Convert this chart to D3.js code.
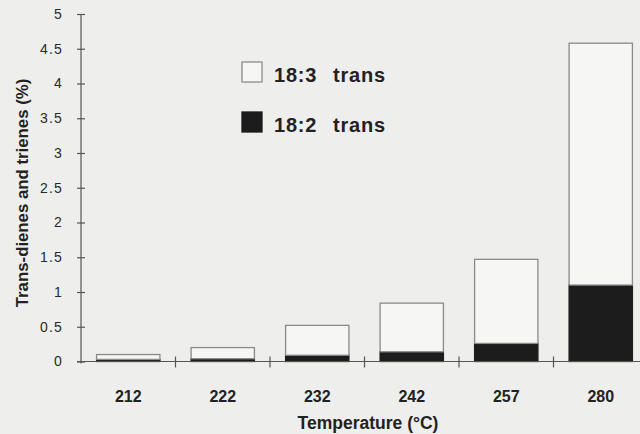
<!DOCTYPE html>
<html>
<head>
<meta charset="utf-8">
<script src="https://cdn.jsdelivr.net/npm/d3@7"></script>
<style>
  html, body { margin: 0; padding: 0; background: #eeeeec; }
  svg { display: block; font-family: "Liberation Sans", Arial, Helvetica, sans-serif; }
</style>
</head>
<body>
<svg id="chart" width="640" height="434"></svg>
<script>
// ---- data ----
const temperatures = ["212", "222", "232", "242", "257", "280"];
const trans182 = [0.03, 0.04, 0.09, 0.14, 0.26, 1.10];   // 18:2 trans (dark, bottom)
const totals   = [0.10, 0.20, 0.52, 0.84, 1.47, 4.58];   // 18:2 + 18:3 total
const trans183 = totals.map((t, i) => +(t - trans182[i]).toFixed(2)); // 18:3 trans (white, top)
const yTicks = [0, 0.5, 1, 1.5, 2, 2.5, 3, 3.5, 4, 4.5, 5];
const seriesKeys = ["18:2 trans", "18:3 trans"];
const legendLabels = [["18:3", "trans"], ["18:2", "trans"]];

// ---- layout ----
const svg = d3.select("#chart");
const x0 = 81, x1 = 648, yBottom = 361.5, yTop = 14;
const textCol = "#222";

const x = d3.scaleBand().domain(temperatures).range([x0, x1])
  .paddingInner(0.33).paddingOuter(0.165);
const y = d3.scaleLinear().domain([0, 5]).range([yBottom, yTop]);

const rows = temperatures.map((t, i) => ({ temp: t, "18:2 trans": trans182[i], "18:3 trans": trans183[i] }));
const stacked = d3.stack().keys(seriesKeys)(rows);
const fills = { "18:2 trans": "#1c1c1c", "18:3 trans": "#f6f6f4" };
const strokes = { "18:2 trans": "#1c1c1c", "18:3 trans": "#8a8a8a" };

// bars
svg.append("g").selectAll("g").data(stacked).join("g")
  .attr("fill", d => fills[d.key]).attr("stroke", d => strokes[d.key]).attr("stroke-width", 1.3)
  .selectAll("rect").data(d => d).join("rect")
  .attr("x", d => x(d.data.temp))
  .attr("width", x.bandwidth())
  .attr("y", d => y(d[1]))
  .attr("height", d => y(d[0]) - y(d[1]));

// y axis
const yAxis = svg.append("g").attr("transform", `translate(${x0},0)`)
  .call(d3.axisLeft(y).tickValues(yTicks).tickSize(4).tickSizeOuter(0).tickPadding(14)
        .tickFormat(d3.format("")));
yAxis.select(".domain").attr("stroke", "#555").attr("stroke-width", 1.2)
  .attr("d", `M0,${yTop}V${yBottom + 2}`);
yAxis.selectAll(".tick line").attr("stroke", "#555").attr("stroke-width", 1.2).attr("x2", -4)
  .clone().attr("x2", 4);
yAxis.selectAll(".tick text").attr("fill", "#2a2a2a").attr("font-size", 14)
  .attr("letter-spacing", 1.2).style("font-family", "Liberation Sans, Arial, sans-serif");

// x axis
const xAxis = svg.append("g").attr("transform", `translate(0,${yBottom})`)
  .call(d3.axisBottom(x).tickSize(0).tickPadding(29));
xAxis.select(".domain").attr("stroke", "#555").attr("stroke-width", 1.2)
  .attr("d", `M${x0 - 4},0H640`);
xAxis.selectAll(".tick text").attr("fill", textCol).attr("font-size", 16).attr("font-weight", "bold")
  .style("font-family", "Liberation Sans, Arial, sans-serif");
// separators between categories
const step = x.step();
svg.append("g").selectAll("line").data(temperatures.slice(1)).join("line")
  .attr("x1", d => x(d) - (step - x.bandwidth()) / 2)
  .attr("x2", d => x(d) - (step - x.bandwidth()) / 2)
  .attr("y1", yBottom - 5).attr("y2", yBottom + 6)
  .attr("stroke", "#555").attr("stroke-width", 1.2);

// axis titles
svg.append("text").attr("x", 368).attr("y", 429).attr("text-anchor", "middle")
  .attr("font-size", 17.5).attr("font-weight", "bold").attr("fill", textCol)
  .text("Temperature (°C)");
svg.append("text").attr("transform", "translate(28,193) rotate(-90)").attr("text-anchor", "middle")
  .attr("font-size", 16.8).attr("font-weight", "bold").attr("fill", textCol)
  .text("Trans-dienes and trienes (%)");

// legend
const legend = svg.append("g");
const legendItems = [
  { key: "18:3 trans", label: legendLabels[0], yb: 82 },
  { key: "18:2 trans", label: legendLabels[1], yb: 132 }
];
legendItems.forEach(it => {
  legend.append("rect").attr("x", 242).attr("y", it.yb - 20).attr("width", 20).attr("height", 20)
    .attr("fill", fills[it.key]).attr("stroke", strokes[it.key]).attr("stroke-width", 1.3);
  legend.append("text").attr("x", 274).attr("y", it.yb).attr("font-size", 20).attr("font-weight", "bold")
    .attr("fill", textCol).attr("letter-spacing", 0.8).text(it.label[0]);
  legend.append("text").attr("x", 333).attr("y", it.yb).attr("font-size", 20).attr("font-weight", "bold")
    .attr("fill", textCol).attr("letter-spacing", 0.8).text(it.label[1]);
});
</script>
</body>
</html>
